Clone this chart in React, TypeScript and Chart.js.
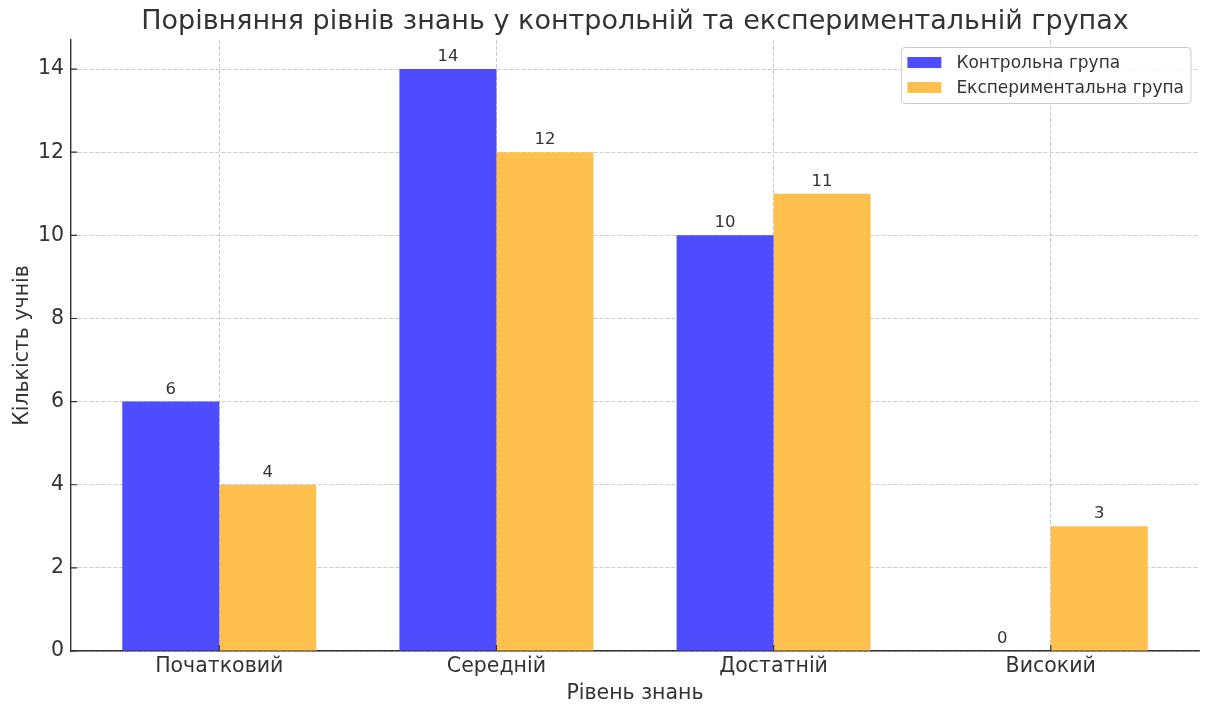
import React, { useEffect, useRef } from 'react';
import { Chart, registerables } from 'chart.js';

Chart.register(...registerables);

// Knowledge levels and number of pupils in each group
const categories = ['Початковий', 'Середній', 'Достатній', 'Високий'];
const controlGroup = [6, 14, 10, 0];
const experimentalGroup = [4, 12, 11, 3];
const yTickValues = [0, 2, 4, 6, 8, 10, 12, 14];
const seriesNames = ['Контрольна група', 'Експериментальна група'];
const chartTitle = 'Порівняння рівнів знань у контрольній та експериментальній групах';
const xAxisTitle = 'Рівень знань';
const yAxisTitle = 'Кількість учнів';

const FONT = '"DejaVu Sans", sans-serif';
const TEXT = '#333333';
const SERIES_COLORS = ['#4d4dff', '#ffc04d'];
const GRID = 'rgba(176,176,176,0.65)';

// Title, inward tick marks, value labels and the framed legend
const decorations = {
  id: 'decorations',
  afterDraw(chart: any) {
    const { ctx, chartArea: area } = chart;
    const xs = chart.scales.x;
    const ys = chart.scales.y;
    ctx.save();

    // tick marks pointing into the plot
    ctx.strokeStyle = TEXT;
    ctx.lineWidth = 1.2;
    ctx.beginPath();
    ys.ticks.forEach((t: any) => {
      const p = ys.getPixelForValue(t.value);
      ctx.moveTo(area.left, p);
      ctx.lineTo(area.left + 6, p);
    });
    xs.ticks.forEach((t: any) => {
      const p = xs.getPixelForValue(t.value);
      ctx.moveTo(p, area.bottom);
      ctx.lineTo(p, area.bottom - 6);
    });
    ctx.stroke();

    // value labels above bars
    ctx.font = `16.5px ${FONT}`;
    ctx.fillStyle = TEXT;
    ctx.textAlign = 'center';
    ctx.textBaseline = 'alphabetic';
    chart.data.datasets.forEach((ds: any, i: number) => {
      chart.getDatasetMeta(i).data.forEach((bar: any, j: number) => {
        ctx.fillText(String(ds.data[j].y), bar.x, bar.y - 8);
      });
    });

    // chart title
    ctx.font = `27px ${FONT}`;
    ctx.fillText(chartTitle, (area.left + area.right) / 2, 29);

    // legend
    ctx.font = `17px ${FONT}`;
    const textW = Math.max(...seriesNames.map((n) => ctx.measureText(n).width));
    const boxRight = area.right - 8;
    const boxTop = area.top + 7.5;
    const swW = 34;
    const swH = 11;
    const boxW = 6 + swW + 15 + textW + 7;
    const boxH = 56;
    const boxLeft = boxRight - boxW;
    ctx.beginPath();
    ctx.roundRect(boxLeft, boxTop, boxW, boxH, 3.5);
    ctx.fillStyle = 'rgba(255,255,255,0.8)';
    ctx.fill();
    ctx.strokeStyle = '#cccccc';
    ctx.lineWidth = 1;
    ctx.stroke();
    ctx.textAlign = 'left';
    ctx.textBaseline = 'middle';
    seriesNames.forEach((name, i) => {
      const cy = boxTop + 15 + i * 25;
      ctx.fillStyle = SERIES_COLORS[i];
      ctx.fillRect(boxLeft + 6, cy - swH / 2, swW, swH);
      ctx.fillStyle = TEXT;
      ctx.fillText(name, boxLeft + 6 + swW + 15, cy + 1);
    });

    ctx.restore();
  },
};

export default function App() {
  const canvasRef = useRef<HTMLCanvasElement | null>(null);

  useEffect(() => {
    const canvas = canvasRef.current;
    if (!canvas) return;
    const toPoints = (vals: number[]) => vals.map((y, x) => ({ x, y }));

    const chart = new Chart(canvas, {
      type: 'bar',
      data: {
        datasets: [
          {
            label: seriesNames[0],
            data: toPoints(controlGroup),
            backgroundColor: SERIES_COLORS[0],
            borderWidth: 0,
          },
          {
            label: seriesNames[1],
            data: toPoints(experimentalGroup),
            backgroundColor: SERIES_COLORS[1],
            borderWidth: 0,
          },
        ],
      },
      options: {
        responsive: false,
        animation: false,
        devicePixelRatio: 1,
        categoryPercentage: 0.7,
        barPercentage: 1.0,
        layout: { padding: { top: 40, right: 8, left: 0, bottom: 0 } },
        plugins: {
          legend: { display: false },
          title: { display: false },
          tooltip: { enabled: false },
        },
        scales: {
          x: {
            type: 'linear',
            min: -0.535,
            max: 3.535,
            offset: false,
            z: 1,
            afterBuildTicks: (scale: any) => {
              scale.ticks = categories.map((_, i) => ({ value: i }));
            },
            afterFit: (scale: any) => {
              scale.height = 53;
            },
            ticks: {
              color: TEXT,
              font: { family: FONT, size: 20.5 },
              padding: 3,
              maxRotation: 0,
              autoSkip: false,
              callback: (v: any) => categories[Math.round(Number(v))] ?? '',
            },
            grid: { color: GRID, lineWidth: 1, drawTicks: false, offset: false },
            border: { display: true, color: TEXT, width: 1.4, dash: [4, 2] },
            title: {
              display: true,
              text: xAxisTitle,
              color: TEXT,
              font: { family: FONT, size: 20.5, lineHeight: 1.0 },
              padding: { top: 0, bottom: 0 },
            },
          },
          y: {
            type: 'linear',
            min: 0,
            max: 14.7,
            z: 1,
            afterBuildTicks: (scale: any) => {
              scale.ticks = yTickValues.map((v) => ({ value: v }));
            },
            afterFit: (scale: any) => {
              scale.width = 71;
            },
            ticks: {
              color: TEXT,
              font: { family: FONT, size: 20.5 },
              padding: 7,
            },
            grid: { color: GRID, lineWidth: 1, drawTicks: false },
            border: { display: true, color: TEXT, width: 1.4, dash: [4, 2] },
            title: {
              display: true,
              text: yAxisTitle,
              color: TEXT,
              font: { family: FONT, size: 20.5 },
              padding: { top: 10, bottom: 0 },
            },
          },
        },
      },
      plugins: [decorations],
    } as any);

    return () => chart.destroy();
  }, []);

  return (
    <div style={{ position: 'fixed', left: 0, top: 0, width: 1207, height: 704, background: '#ffffff' }}>
      <canvas ref={canvasRef} width={1207} height={704} />
    </div>
  );
}
